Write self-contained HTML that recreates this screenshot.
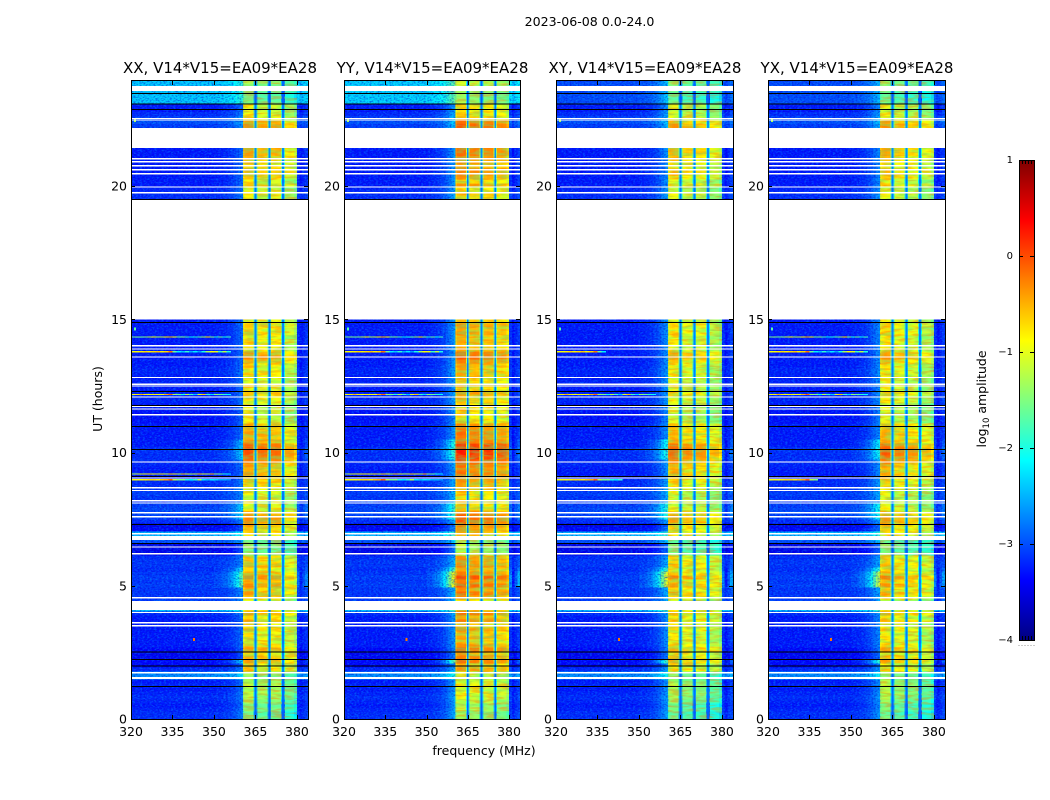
<!DOCTYPE html>
<html lang="en">
<head>
<meta charset="utf-8">
<title>2023-06-08 amplitude waterfall</title>
<style>
html,body{margin:0;padding:0;background:#fff;}
svg{display:block;}
text{font-family:"DejaVu Sans","Liberation Sans",sans-serif;fill:#000;}
.tick{font-size:12.5px;}
.title{font-size:15px;}
.cbt{font-size:10px;}
</style>
</head>
<body>
<svg id="figure" xmlns="http://www.w3.org/2000/svg" width="1050" height="800" viewBox="0 0 1050 800" shape-rendering="crispEdges">
  <defs>
    <filter id="grain-light" x="0" y="0" width="1" height="1" color-interpolation-filters="sRGB">
      <feTurbulence type="fractalNoise" baseFrequency="0.42 0.62" numOctaves="2" seed="4"/>
      <feColorMatrix type="matrix" values="0 0 0 0 0  0 0 0 0 0.75  0 0 0 0 1  3.4 0 0 0 -1.5"/>
    </filter>
    <filter id="grain-dark" x="0" y="0" width="1" height="1" color-interpolation-filters="sRGB">
      <feTurbulence type="fractalNoise" baseFrequency="0.5 0.7" numOctaves="2" seed="11"/>
      <feColorMatrix type="matrix" values="0 0 0 0 0  0 0 0 0 0  0 0 0 0 0.8  0 3.4 0 0 -1.5"/>
    </filter>
    <filter id="grain-streak" x="0" y="0" width="1" height="1" color-interpolation-filters="sRGB">
      <feTurbulence type="fractalNoise" baseFrequency="0.07 0.38" numOctaves="2" seed="7"/>
      <feColorMatrix type="matrix" values="0 0 0 0 1  0 0 0 0 0.45  0 0 0 0 0  4.5 0 0 0 -2"/>
    </filter>
    <filter id="grain-streak-green" x="0" y="0" width="1" height="1" color-interpolation-filters="sRGB">
      <feTurbulence type="fractalNoise" baseFrequency="0.07 0.3" numOctaves="2" seed="19"/>
      <feColorMatrix type="matrix" values="0 0 0 0 0.3  0 0 0 0 1  0 0 0 0 0.5  4.5 0 0 0 -2"/>
    </filter>
    <linearGradient id="jet-gradient" x1="0" y1="1" x2="0" y2="0"></linearGradient>
  </defs>
  <text x="589.5" y="26" text-anchor="middle" font-size="12.6">2023-06-08 0.0-24.0</text>
  <text class="tick" transform="translate(102,399) rotate(-90)" text-anchor="middle">UT (hours)</text>
  <text class="tick" x="484" y="755" text-anchor="middle">frequency (MHz)</text>
  <g id="panels"></g>
  <g id="colorbar"></g>
  <text class="tick" transform="translate(986,399) rotate(-90)" text-anchor="middle">log<tspan dy="3" font-size="8.5">10</tspan><tspan dy="-3"> amplitude</tspan></text>
</svg>
<script>
const panelTitles = ["XX, V14*V15=EA09*EA28", "YY, V14*V15=EA09*EA28", "XY, V14*V15=EA09*EA28", "YX, V14*V15=EA09*EA28"];
const xTicks = [320, 335, 350, 365, 380];
const yTicks = [0, 5, 10, 15, 20];
const colorTicks = [1, 0, -1, -2, -3, -4];
const colorTickLabels = ["1", "0", "\u22121", "\u22122", "\u22123", "\u22124"];

/* frequency channels (MHz) */
const freqEdges = [320,325,330,335,340,345,350,351,352,353,354,355,356,357,358,359,360,360.5,361,362,363,364.3,364.65,365.35,365.7,367,368,369.3,369.65,370.35,370.7,372,373,374.3,374.65,375.35,375.7,377,378,379,380,381,382,383,384];
/* -1 background, 0..3 bright sub-band, 4 gap between sub-bands */
const channelKind = [-1,-1,-1,-1,-1,-1,-1,-1,-1,-1,-1,-1,-1,-1,-1,-1,-1,0,0,0,0,0,4,1,1,1,1,1,4,2,2,2,2,2,4,3,3,3,3,3,-1,-1,-1,-1];
const channelOffset = [0,0,0,0,0,0,0.03,0.03,0.05,0.08,0.1,0.15,0.2,0.28,0.38,0.48,0.55,-0.1,0.05,0.08,0.05,-0.9,0,-0.9,0.05,0.08,0.05,-0.9,0,-0.9,0.05,0.08,0.05,-0.9,0,-0.9,0.05,0.08,0.05,-0.15,0.1,-0.05,0.05,0.15];

/* log10 amplitude per 0.15 h row, brightest sub-band level; null = no data */
const rowBand = [
 -1.5,-1.6,-1.4,-1.5,-1.3,-1.2,-1.1,-1.2,-1.1,-1.2,
 -1.4,-1.3,-0.6,-0.8,-0.4,-0.5,-0.7,-0.4,-0.6,-0.8,
 -0.7,-0.8,-0.6,-0.8,-0.5,-0.7,-0.4,-0.7,-1.0,-1.0,
 -0.6,-0.4,-0.6,-0.3,-0.5,-0.2,-0.5,-0.7,-0.5,-0.6,
 -0.6,-1.4,-1.5,-1.4,-1.6,-0.9,-0.7,-0.6,-0.5,-0.3,
 -0.3,-0.4,-0.8,-0.9,-0.8,-1.0,-0.9,-0.8,-0.7,-0.6,
 -0.5,-0.4,-0.5,-0.4,-0.2,-0.1,0.0,0.0,-0.1,-0.4,
 -0.5,-0.4,-0.5,-0.5,-0.9,-1.0,-1.0,-0.9,-1.0,-0.8,
 -0.8,-0.6,-0.9,-0.7,-0.9,-0.8,-0.7,-0.8,-0.7,-0.5,
 -0.3,-0.4,-0.7,-0.8,-0.7,-0.8,-0.6,-0.7,-0.6,-0.8,
 null,null,null,null,null,null,null,null,null,null,
 null,null,null,null,null,null,null,null,null,null,
 null,null,null,null,null,null,null,null,null,null,
 -0.9,-0.8,-1.0,-0.6,-0.9,-0.6,-0.5,-0.5,-0.7,-0.6,
 -0.5,-0.4,-0.4,null,null,null,null,null,-0.3,-0.4,
 -0.8,-0.9,-1.0,-0.9,-1.5,-1.6,-1.6,-1.5,-1.4,-1.3
];
/* background level per row */
const rowBackground = [
 -3.1,-3.1,-3.15,-3.2,-3.15,-3.1,-3.15,-3.2,-3.15,-3.2,
 -2.55,-2.6,-3.1,-3.3,-3.3,-3.35,-3.35,-3.3,-3.2,-3.2,
 -3.2,-3.2,-3.2,-3.2,-3.2,-3.2,-3.1,-2.3,-3.0,-3.0,
 -3.05,-3.05,-3.05,-3.0,-3.05,-3.0,-3.05,-3.1,-3.05,-3.05,
 -3.1,-3.4,-3.4,-3.4,-2.9,-2.3,-2.4,-3.3,-3.4,-3.1,
 -3.0,-2.95,-2.95,-3.0,-3.05,-3.05,-3.0,-3.05,-3.1,-3.1,
 -3.2,-3.2,-3.2,-3.15,-3.1,-3.1,-3.1,-3.05,-3.2,-3.2,
 -3.2,-3.2,-3.2,-3.2,-3.25,-3.25,-3.25,-3.2,-3.2,-3.15,
 -3.15,-3.15,-3.2,-3.15,-3.15,-3.2,-3.15,-3.15,-3.2,-3.2,
 -3.2,-3.2,-3.2,-3.2,-3.2,-3.2,-3.2,-3.2,-3.2,-3.2,
 null,null,null,null,null,null,null,null,null,null,
 null,null,null,null,null,null,null,null,null,null,
 null,null,null,null,null,null,null,null,null,null,
 -3.1,-3.1,-3.15,-3.2,-3.2,-3.2,-3.2,-3.2,-3.2,-3.2,
 -3.2,-3.2,-3.2,null,null,null,null,null,-3.0,-2.9,
 -3.0,-3.1,-3.2,-3.2,-3.2,-3.2,-3.2,-3.2,-3.2,-3.2
];
const backgroundShift = -0.08;

/* per-polarisation offsets for sub-bands 0..3 */
const xxBandOffset = [-0.05, -0.2, -0.2, -0.5];
const yyBandOffset = [0.2, 0.1, 0.05, -0.05];
const xyBandOffset = [-0.15, -0.35, -0.4, -0.6];
const yxBandOffset = [-0.1, -0.3, -0.4, -0.6];
const panelBandOffsets = [xxBandOffset, yyBandOffset, xyBandOffset, yxBandOffset];
const panelRampGain = [0.8, 1.3, 1.2, 1.1];
/* background level of the top strip (row 154 upward) per panel */
const topStripBackground = [-2.35, -2.3, -3.0, -3.0];
const topStripFirstRow = 154;

/* hours with extra emission on the low side of the band */
const rampBoostStart = [2.05, 4.95, 5.4, 9.75, 7.5];
const rampBoostEnd = [2.2, 5.4, 5.7, 10.5, 8.1];
const rampBoostValue = [1.6, 2.4, 1.2, 1.0, 0.8];

/* flagged (white) ranges, hours */
const flagStart = [1.51,1.70,3.47,3.59,3.97,4.09,4.52,6.17,6.43,6.72,6.93,7.56,7.71,8.08,8.16,8.55,8.65,9.02,9.62,11.39,11.61,11.70,12.06,12.47,12.53,12.79,13.56,13.86,13.98,15.0,19.72,19.94,20.43,20.58,20.73,20.88,21.0,21.43,22.46,22.52,23.56];
const flagEnd = [1.57,1.76,3.52,3.64,4.02,4.43,4.57,6.22,6.48,6.87,6.98,7.61,7.76,8.13,8.21,8.60,8.70,9.07,9.67,11.44,11.66,11.75,12.11,12.52,12.58,12.84,13.61,13.91,14.03,19.51,19.77,19.99,20.48,20.63,20.78,20.93,21.05,22.18,22.49,22.56,23.75];
/* zero-amplitude (black) rows, hours */
const blackHours = [1.24,2.0,2.26,2.53,6.6,7.32,9.12,10.13,10.99,11.79,12.31,14.9,19.51,22.89,23.1,23.49];

/* narrow-band interference lines: 1.5 MHz bins from 320 MHz */
const rfiHours = [14.33, 13.77, 12.17, 9.19, 8.97];
const rfiLine0 = [-1.6,-1.5,-1.6,-1.5,-1.2,-0.9,-1.3,-1.2,-0.8,-0.5,-0.9,-1.6,-1.5,-1.8,-2.2,-2.0,-1.7,-1.4,-0.7,-1.5,-2.0,-1.6,-2.1,-1.8];
const rfiLine1 = [-0.9,-0.9,-0.8,-0.7,-0.8,-0.7,-0.6,-0.8,-0.7,-0.2,-1.6,-2.2,-2.4,-1.9,-2.5,-2.2,-2.6,-2.0,-1.3,-0.9,-1.0,-1.8,-1.2,-2.0];
const rfiLine2 = [-0.9,-0.8,-0.5,-0.8,-0.9,-0.8,-0.9,-0.9,-0.5,-0.1,-1.3,-1.5,-2.0,-1.2,-1.8,-2.4,-1.0,-0.6,-1.8,-2.3,-1.4,-1.6,-1.9,-2.1];
const rfiLine3 = [-1.3,-1.1,-1.0,-0.9,-0.8,-0.9,-1.0,-0.8,-1.1,-0.7,-0.9,-1.2,-0.6,-1.0,-1.2,-1.1,-0.6,-1.0,-1.2,-0.5,-1.4,-1.6,-2.0,-2.2];
const rfiLine4 = [-0.9,-0.9,-0.9,-0.8,-0.7,-0.7,-0.8,-0.6,-0.5,-0.1,-1.2,-1.5,-1.5,-2.0,-2.2,-1.9,-1.2,-2.2,-2.4,-2.2,-2.3,-2.5,-2.5,-2.6];
const rfiLevels = [rfiLine0, rfiLine1, rfiLine2, rfiLine3, rfiLine4];
const rfiReach = [[24,24,0,24],[24,24,12,24],[24,24,24,24],[24,24,0,0],[24,24,16,12]];

/* isolated bright spots */
const spotHours = [2.96, 22.44, 14.62];
const spotFreqs = [342.4, 321, 321];
const spotLevels = [-0.2, -1.3, -1.7];

/* layout */
const panelLeft = [131, 344, 556, 768];
const panelRight = [308, 520, 733, 945];
const plotTop = 81, plotBottom = 719;
const hourTop = 23.94, freqMin = 320, freqMax = 384;
const NS = "http://www.w3.org/2000/svg";

function jetChannel(v){ return Math.round(255 * Math.max(0, Math.min(1, v))); }
function jet(level){
  const t = Math.max(0, Math.min(1, (level + 4) / 5));
  const r = jetChannel(Math.min(4*t - 1.5, -4*t + 4.5));
  const g = jetChannel(Math.min(4*t - 0.5, -4*t + 3.5));
  const b = jetChannel(Math.min(4*t + 0.5, -4*t + 2.5));
  return "rgb(" + r + "," + g + "," + b + ")";
}
function yScale(h){ return plotBottom - (h / hourTop) * (plotBottom - plotTop); }
function xScale(p, f){ return panelLeft[p] + (f - freqMin) / (freqMax - freqMin) * (panelRight[p] - panelLeft[p]); }
function make(tag, attrs, parent){
  const e = document.createElementNS(NS, tag);
  for (const k in attrs) e.setAttribute(k, attrs[k]);
  parent.appendChild(e);
  return e;
}
function rampBoost(h){
  let b = 0;
  for (let i = 0; i < rampBoostStart.length; i++) {
    if (h >= rampBoostStart[i] && h < rampBoostEnd[i]) b = rampBoostValue[i];
  }
  return b;
}
function cellLevel(p, r, c){
  const kind = channelKind[c];
  const band = rowBand[r];
  let bg = rowBackground[r] + backgroundShift;
  if (r >= topStripFirstRow) bg = topStripBackground[p];
  if (kind === -1) return bg + channelOffset[c] * panelRampGain[p] * (1 + rampBoost(r * 0.15));
  if (kind === 4) return -2.8 + 0.2 * (band + 1);
  return band + panelBandOffsets[p][kind] + channelOffset[c];
}

const panelsRoot = document.getElementById("panels");
const rowStep = 0.15;
panelTitles.forEach(function(title, p){
  const x0 = panelLeft[p];
  const panelWidth = panelRight[p] - panelLeft[p];
  const g = make("g", {}, panelsRoot);
  
  

  const clip = make("clipPath", {id: "clip" + p}, g);
  make("rect", {x: x0, y: plotTop, width: panelWidth, height: plotBottom - plotTop}, clip);
  const body = make("g", {"clip-path": "url(#clip" + p + ")"}, g);
  
  

  for (let r = 0; r < rowBand.length; r++) {
    if (rowBand[r] === null) continue;
    const yA = yScale(r * rowStep), yB = yScale((r + 1) * rowStep);
    for (let c = 0; c < channelKind.length; c++) {
      const xA = xScale(p, freqEdges[c]), xB = xScale(p, freqEdges[c + 1]);
      const cell = make("rect", {x: xA.toFixed(2), y: yB.toFixed(2), width: (xB - xA + 0.2).toFixed(2), height: (yA - yB + 0.4).toFixed(2), fill: jet(cellLevel(p, r, c))}, body);
      
      
    }
  }

  /* receiver noise texture */
  const bandStartX = xScale(p, 360.5), bandEndX = xScale(p, 380);
  [[x0, bandStartX - x0], [bandEndX, x0 + panelWidth - bandEndX]].forEach(function(s){
    const a = make("rect", {x: s[0], y: plotTop, width: s[1], height: plotBottom - plotTop, filter: "url(#grain-light)", opacity: 0.32}, body);
    
    
    const b = make("rect", {x: s[0], y: plotTop, width: s[1], height: plotBottom - plotTop, filter: "url(#grain-dark)", opacity: 0.45}, body);
    
    
  });
  const streak = make("rect", {x: bandStartX, y: plotTop, width: bandEndX - bandStartX, height: plotBottom - plotTop, filter: "url(#grain-streak)", opacity: 0.4}, body);
  
  
  const streakGreen = make("rect", {x: bandStartX, y: plotTop, width: bandEndX - bandStartX, height: plotBottom - plotTop, filter: "url(#grain-streak-green)", opacity: 0.35}, body);
  
  

  /* redraw sub-band gaps above the streak texture */
  for (let r = 0; r < rowBand.length; r++) {
    if (rowBand[r] === null) continue;
    const yA = yScale(r * rowStep), yB = yScale((r + 1) * rowStep);
    for (let c = 0; c < channelKind.length; c++) {
      if (channelKind[c] !== 4) continue;
      const xA = xScale(p, freqEdges[c]), xB = xScale(p, freqEdges[c + 1]);
      const gap = make("rect", {x: xA.toFixed(2), y: yB.toFixed(2), width: (xB - xA).toFixed(2), height: (yA - yB + 0.4).toFixed(2), fill: jet(cellLevel(p, r, c))}, body);
      
      
    }
  }

  /* interference lines */
  rfiHours.forEach(function(h, i){
    const levels = rfiLevels[i];
    for (let k = 0; k < rfiReach[i][p] && k < levels.length; k++) {
      const xA = xScale(p, 320 + k * 1.5), xB = xScale(p, 320 + (k + 1) * 1.5);
      const seg = make("rect", {x: xA.toFixed(2), y: yScale(h + 0.03).toFixed(2), width: (xB - xA + 0.2).toFixed(2), height: 1.3, fill: jet(levels[k])}, body);
      
      
    }
  });
  spotHours.forEach(function(h, i){
    const s = make("rect", {x: xScale(p, spotFreqs[i]).toFixed(2), y: yScale(h + 0.08).toFixed(2), width: 2, height: 3, fill: jet(spotLevels[i])}, body);
    
    
  });

  /* flagged data */
  flagStart.forEach(function(h, i){
    const yA = yScale(flagEnd[i]), yB = yScale(h);
    const f = make("rect", {x: x0, y: yA.toFixed(2), width: panelWidth, height: Math.max(1, yB - yA).toFixed(2), fill: "#fff"}, body);
    
    
  });
  blackHours.forEach(function(h){
    const f = make("rect", {x: x0, y: yScale(h).toFixed(2), width: panelWidth, height: 1, fill: "#000"}, body);
    
    
  });

  /* frame */
  const frame = make("rect", {x: x0 + 0.5, y: plotTop - 0.5, width: panelWidth, height: plotBottom - plotTop + 1, fill: "none", stroke: "#000", "stroke-width": 1}, g);
  
  

  const t = make("text", {class: "title", x: x0 + panelWidth / 2 + 0.5, y: 73, "text-anchor": "middle"}, g);
  t.textContent = title;
  
  

  /* x ticks */
  xTicks.forEach(function(f){
    const x = Math.round(xScale(p, f)) + 0.5;
    const a = make("line", {x1: x, x2: x, y1: plotBottom, y2: plotBottom - 4, stroke: "#000", "stroke-width": 1}, g);
    
    
    const b = make("line", {x1: x, x2: x, y1: plotTop, y2: plotTop + 4, stroke: "#000", "stroke-width": 1}, g);
    
    
    const l = make("text", {class: "tick", x: xScale(p, f), y: 736, "text-anchor": "middle"}, g);
    l.textContent = String(f);
    
    
  });
  /* y ticks */
  yTicks.forEach(function(h){
    const y = Math.round(yScale(h)) + 0.5;
    const a = make("line", {x1: x0, x2: x0 + 4, y1: y, y2: y, stroke: "#000", "stroke-width": 1}, g);
    
    
    const b = make("line", {x1: x0 + panelWidth, x2: x0 + panelWidth - 4, y1: y, y2: y, stroke: "#000", "stroke-width": 1}, g);
    
    
    const l = make("text", {class: "tick", x: x0 - 4, y: yScale(h) + 4.5, "text-anchor": "end"}, g);
    l.textContent = String(h);
    
    
  });
});

/* colour bar */
const cbLeft = 1019, cbWidth = 15, cbTop = 160, cbBottom = 640;
function cbScale(v){ return cbBottom - (v + 4) / 5 * (cbBottom - cbTop); }
const gradient = document.getElementById("jet-gradient");
for (let i = 0; i <= 40; i++) {
  const level = -4 + i / 8;
  make("stop", {offset: (i / 40 * 100) + "%", "stop-color": jet(level)}, gradient);
}
const cb = document.getElementById("colorbar");
const ramp = make("rect", {x: cbLeft + 0.5, y: cbTop + 0.5, width: cbWidth, height: cbBottom - cbTop, fill: "url(#jet-gradient)", stroke: "#000", "stroke-width": 1}, cb);


colorTicks.forEach(function(v, i){
  const y = Math.round(cbScale(v)) + 0.5;
  const a = make("line", {x1: cbLeft, x2: cbLeft + 4, y1: y, y2: y, stroke: "#000"}, cb);
  
  
  const b = make("line", {x1: cbLeft + cbWidth, x2: cbLeft + cbWidth - 4, y1: y, y2: y, stroke: "#000"}, cb);
  
  
  const l = make("text", {class: "cbt", x: 1013, y: cbScale(v) + 3, "text-anchor": "end"}, cb);
  l.textContent = colorTickLabels[i];
  
  
});
for (let k = 0; k <= 5; k++) {
  const x = Math.round(cbLeft + k * cbWidth / 5) + 0.5;
  const a = make("line", {x1: x, x2: x, y1: cbTop, y2: cbTop + 4, stroke: "#000"}, cb);
  
  
  const b = make("line", {x1: x, x2: x, y1: cbBottom, y2: cbBottom - 4, stroke: "#000"}, cb);
  
  
  const d = make("rect", {x: x - 1, y: 645, width: 1, height: 1, fill: "#999"}, cb);
  
  
}
</script>
</body>
</html>
